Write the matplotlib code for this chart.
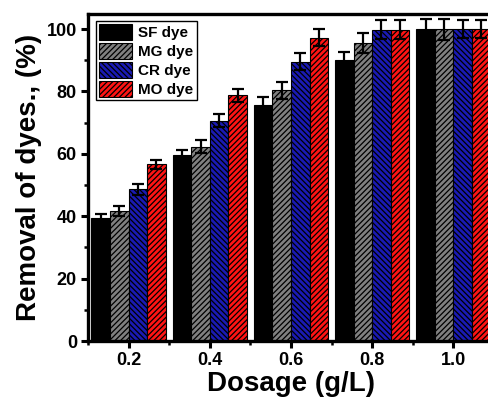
import numpy as np
import matplotlib
matplotlib.use("Agg")
import matplotlib.pyplot as plt
from matplotlib.ticker import MultipleLocator

plt.rcParams['font.family'] = ['Liberation Sans', 'DejaVu Sans']
plt.rcParams['font.weight'] = 'bold'
plt.rcParams['hatch.linewidth'] = 0.9

# data
dosage = [0.2, 0.4, 0.6, 0.8, 1.0]
dose_labels = ['0.2', '0.4', '0.6', '0.8', '1.0']
dyes = ['SF dye', 'MG dye', 'CR dye', 'MO dye']
sf = [39.4, 59.6, 75.7, 90.0, 100.0]
mg = [41.7, 62.3, 80.4, 95.7, 100.0]
cr = [48.6, 70.6, 89.6, 99.8, 100.0]
mo = [56.6, 78.8, 97.3, 99.8, 100.0]
sf_err = [1.2, 1.8, 2.4, 2.8, 3.2]
mg_err = [1.5, 2.0, 2.7, 3.2, 3.4]
cr_err = [1.7, 2.1, 2.7, 3.1, 3.0]
mo_err = [1.5, 2.1, 2.7, 3.0, 3.0]

colors = ['#000000', '#808080', '#1a1ab4', '#ff1414']
hatches = ['', '//////', '\\\\\\\\\\\\', '//////']

fig = plt.figure(figsize=(4.88, 4.01), dpi=100)
ax = fig.add_axes([0.1803, 0.1496, 0.832, 0.8167])

width = 0.0457
x = np.array(dosage)
series = [sf, mg, cr, mo]
errs = [sf_err, mg_err, cr_err, mo_err]
for i, (vals, err) in enumerate(zip(series, errs)):
    offs = (i - 1.5) * width
    ax.bar(x + offs, vals, width, color=colors[i], edgecolor='black',
           linewidth=0.8, hatch=hatches[i], label=dyes[i], zorder=2)
    ax.errorbar(x + offs, vals, yerr=err, fmt='none', ecolor='black',
                elinewidth=1.6, capsize=4.3, capthick=1.6, zorder=3)

ax.set_xlim(0.1, 1.1)
ax.set_ylim(0, 105)
ax.set_xticks(dosage)
ax.set_xticklabels(dose_labels)
ax.xaxis.set_minor_locator(MultipleLocator(0.1))
ax.yaxis.set_major_locator(MultipleLocator(20))
ax.yaxis.set_minor_locator(MultipleLocator(10))
ax.tick_params(axis='both', which='major', direction='out', length=5, width=2.2,
               labelsize=13, pad=3)
ax.tick_params(axis='both', which='minor', direction='out', length=3, width=1.8)
for s in ax.spines.values():
    s.set_linewidth(2.4)

ax.set_xlabel('Dosage (g/L)', fontsize=20, fontweight='bold', labelpad=1)
ax.set_ylabel('Removal of dyes., (%)', fontsize=20, fontweight='bold', labelpad=3)

leg = ax.legend(loc='upper left', fontsize=11, frameon=True, fancybox=False,
                edgecolor='black', framealpha=1, handlelength=2.2, handleheight=1.2,
                borderpad=0.2, labelspacing=0.2, handletextpad=0.4,
                borderaxespad=0.5)
leg.get_frame().set_linewidth(1.0)

fig.savefig('out.png', dpi=100)
